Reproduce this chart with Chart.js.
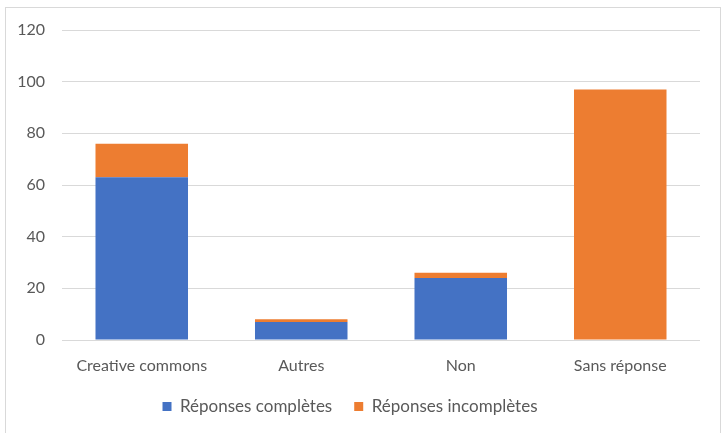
<!DOCTYPE html><html><head>
    <title>Licences</title>
    <style>
        body { margin: 0; background: #fff; }
        #frame { position: absolute; left: 5px; top: 7px; width: 716px; height: 430px; border: 1px solid #d9d9d9; box-sizing: border-box; }
        #wrap { position: absolute; left: 0; top: 0; width: 727px; height: 433px; }
    </style>
</head>
<body>
    <div id="frame"></div>
    <div id="wrap"><canvas id="chart"></canvas></div>
    <script src="https://cdn.jsdelivr.net/npm/chart.js"></script>
    <script>
        Chart.defaults.font.family = "Lato, 'Open Sans', sans-serif";
        Chart.defaults.font.size = 16;
        Chart.defaults.color = '#595959';

        const categories = ["Creative commons", "Autres", "Non", "Sans réponse"];
        const completes = [63, 7, 24, 0];
        const incompletes = [13, 1, 2, 97];
        const yTicks = [0, 20, 40, 60, 80, 100, 120];

        const ctx = document.getElementById('chart').getContext('2d');
        const chart = new Chart(ctx, {
            type: 'bar',
            data: {
                labels: categories,
                datasets: [{
                    label: "Réponses complètes",
                    data: completes,
                    backgroundColor: '#4472C4'
                }, {
                    label: "Réponses incomplètes",
                    data: incompletes,
                    backgroundColor: '#ED7D31'
                }]
            },
            options: {
                responsive: true,
                maintainAspectRatio: false,
                animation: false,
                layout: { padding: { top: 30, right: 27, left: 0, bottom: 8 } },
                datasets: { bar: { categoryPercentage: 0.58, barPercentage: 1 } },
                scales: {
                    x: {
                        stacked: true,
                        grid: { display: false, drawTicks: false },
                        border: { display: false },
                        ticks: { padding: 16 },
                        afterFit: s => { s.height = 36; }
                    },
                    y: {
                        stacked: true,
                        min: 0, max: 120,
                        afterBuildTicks: s => { s.ticks = yTicks.map(v => ({ value: v })); },
                        afterFit: s => { s.width = 62; },
                        grid: { color: '#d9d9d9', drawTicks: false },
                        border: { display: false },
                        ticks: { padding: 17 }
                    }
                },
                plugins: {
                    legend: {
                        position: 'bottom',
                        labels: { boxWidth: 9, boxHeight: 9, padding: 22, font: { size: 17 } }
                    },
                    tooltip: { enabled: false }
                }
            }
        });
    </script>
</body></html>
